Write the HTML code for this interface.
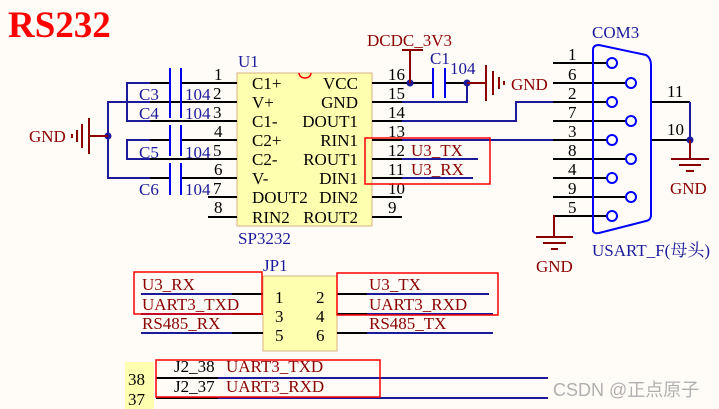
<!DOCTYPE html>
<html><head><meta charset="utf-8"><style>
html,body{margin:0;padding:0;background:#fffcf8;}
svg{display:block;}
text{font-family:"Liberation Serif","Noto Serif CJK SC",serif;font-size:17px;}
.k{fill:#000}.b{fill:#1a1a9a}.r{fill:#8b0000}
</style></head><body>
<svg width="719" height="409" viewBox="0 0 719 409" xmlns="http://www.w3.org/2000/svg">
<rect width="719" height="409" fill="#fffcf8"/>
<text x="8" y="37" style="font-size:37px;font-weight:bold" fill="#ff0000">RS232</text>

<!-- chip -->
<rect x="237" y="73" width="135" height="153" fill="#ffffb0" stroke="#d8b080" stroke-width="1"/>
<path d="M299 73 A6 5 0 0 0 311 73" fill="none" stroke="#ff0000" stroke-width="1.5"/>
<text x="238" y="67" class="b">U1</text>
<text x="238" y="244" class="b">SP3232</text>
<g class="k">
<text x="252" y="89">C1+</text><text x="252" y="108">V+</text><text x="252" y="127">C1-</text><text x="252" y="146">C2+</text>
<text x="252" y="165">C2-</text><text x="252" y="184">V-</text><text x="252" y="203">DOUT2</text><text x="252" y="223">RIN2</text>
<g text-anchor="end"><text x="358" y="89">VCC</text><text x="358" y="108">GND</text><text x="358" y="127">DOUT1</text><text x="358" y="146">RIN1</text>
<text x="358" y="165">ROUT1</text><text x="358" y="184">DIN1</text><text x="358" y="203">DIN2</text><text x="358" y="223">ROUT2</text></g>
</g>
<!-- left pins -->
<g stroke="#000" stroke-width="2">
<line x1="181" y1="83" x2="237" y2="83"/><line x1="181" y1="140" x2="237" y2="140"/><line x1="181" y1="178" x2="237" y2="178"/>
<line x1="208" y1="197" x2="237" y2="197"/><line x1="208" y1="217" x2="237" y2="217"/>
<line x1="150" y1="102" x2="237" y2="102"/><line x1="150" y1="121" x2="237" y2="121"/><line x1="150" y1="159" x2="237" y2="159"/>
<line x1="150" y1="83" x2="170" y2="83"/><line x1="150" y1="140" x2="170" y2="140"/><line x1="150" y1="178" x2="170" y2="178"/>
</g>
<g stroke="#1a1a9a" stroke-width="2" fill="none">
<polyline points="150,83 127,83 127,121 150,121"/>
<polyline points="150,140 127,140 127,159 150,159"/>
<polyline points="150,102 108,102 108,178 150,178"/>
</g>
<circle cx="108" cy="136" r="3.5" fill="#1a1a9a"/>
<g stroke="#8b0000" stroke-width="2">
<line x1="89" y1="136" x2="108" y2="136"/><line x1="89" y1="118" x2="89" y2="154"/>
<line x1="82" y1="124" x2="82" y2="148"/><line x1="77" y1="130" x2="77" y2="142"/><line x1="72" y1="134" x2="72" y2="138"/>
</g>
<text x="29" y="142" class="r">GND</text>
<g stroke="#0000ee" stroke-width="2">
<line x1="170" y1="68" x2="170" y2="118"/><line x1="181" y1="68" x2="181" y2="118"/>
<line x1="170" y1="125" x2="170" y2="156"/><line x1="181" y1="125" x2="181" y2="156"/>
<line x1="170" y1="163" x2="170" y2="195"/><line x1="181" y1="163" x2="181" y2="195"/>
</g>
<g class="b"><text x="139" y="100">C3</text><text x="139" y="119">C4</text><text x="139" y="158">C5</text><text x="139" y="195">C6</text>
<text x="185" y="100">104</text><text x="185" y="119">104</text><text x="185" y="158">104</text><text x="185" y="195">104</text></g>
<g class="k"><text x="214" y="80">1</text><text x="213" y="99">2</text><text x="213" y="118">3</text><text x="214" y="137">4</text>
<text x="213" y="156">5</text><text x="214" y="175">6</text><text x="213" y="194">7</text><text x="214" y="213">8</text></g>

<!-- right pins -->
<g stroke="#000" stroke-width="2">
<line x1="372" y1="83" x2="433" y2="83"/><line x1="372" y1="102" x2="402" y2="102"/><line x1="372" y1="121" x2="402" y2="121"/>
<line x1="372" y1="140" x2="402" y2="140"/><line x1="372" y1="159" x2="402" y2="159"/><line x1="372" y1="178" x2="402" y2="178"/>
<line x1="372" y1="197" x2="402" y2="197"/><line x1="372" y1="217" x2="402" y2="217"/>
<line x1="445" y1="83" x2="480" y2="83"/>
</g>
<g class="k"><text x="388" y="80">16</text><text x="388" y="99">15</text><text x="388" y="118">14</text><text x="388" y="137">13</text>
<text x="388" y="156">12</text><text x="388" y="175">11</text><text x="388" y="194">10</text><text x="388" y="213">9</text></g>
<g stroke="#1a1a9a" stroke-width="2" fill="none">
<polyline points="402,102 467,102 467,83"/>
<polyline points="402,121 516,121 516,102 553,102"/>
<line x1="402" y1="140" x2="553" y2="140"/>
<line x1="402" y1="159" x2="478" y2="159"/><line x1="402" y1="178" x2="473" y2="178"/>
</g>
<circle cx="410" cy="83" r="3.5" fill="#1a1a9a"/><circle cx="467" cy="83" r="3.5" fill="#1a1a9a"/>
<g stroke="#8b0000" stroke-width="2">
<line x1="410" y1="50" x2="410" y2="83"/><line x1="402" y1="50" x2="423" y2="50"/>
<line x1="467" y1="83" x2="486" y2="83"/><line x1="486" y1="65" x2="486" y2="101"/><line x1="493" y1="71" x2="493" y2="95"/>
<line x1="499" y1="77" x2="499" y2="89"/><line x1="504" y1="81" x2="504" y2="85"/>
</g>
<text x="367" y="46" class="r">DCDC_3V3</text>
<text x="511" y="90" class="r">GND</text>
<g stroke="#0000ee" stroke-width="2"><line x1="433" y1="68" x2="433" y2="98"/><line x1="445" y1="68" x2="445" y2="98"/></g>
<text x="430" y="64" class="b">C1</text><text x="450" y="74" class="b">104</text>
<rect x="365" y="138" width="125" height="46" fill="none" stroke="#ff0000" stroke-width="1.5"/>
<text x="411" y="156" class="r">U3_TX</text><text x="411" y="175" class="r">U3_RX</text>

<!-- DB9 -->
<g stroke="#000" stroke-width="2">
<line x1="553" y1="63" x2="607" y2="63"/><line x1="553" y1="83" x2="626" y2="83"/><line x1="553" y1="102" x2="607" y2="102"/>
<line x1="553" y1="121" x2="626" y2="121"/><line x1="553" y1="140" x2="607" y2="140"/><line x1="553" y1="159" x2="626" y2="159"/>
<line x1="553" y1="178" x2="607" y2="178"/><line x1="553" y1="197" x2="626" y2="197"/><line x1="553" y1="216" x2="607" y2="216"/>
<line x1="651" y1="102" x2="690" y2="102"/><line x1="651" y1="140" x2="690" y2="140"/>
</g>
<path d="M593 232 L593 50 Q593 45 599 45 L646 55 Q651 58 651 65 L651 215 Q651 220 646 221 L599 233 Q593 234 593 230 Z" fill="none" stroke="#0000ff" stroke-width="2"/>
<g fill="#fffcf8" stroke="#0000ff" stroke-width="2">
<circle cx="612" cy="63" r="5"/><circle cx="631" cy="83" r="5"/><circle cx="612" cy="102" r="5"/><circle cx="631" cy="121" r="5"/>
<circle cx="612" cy="140" r="5"/><circle cx="631" cy="159" r="5"/><circle cx="612" cy="178" r="5"/><circle cx="631" cy="197" r="5"/><circle cx="612" cy="216" r="5"/>
</g>
<g class="k"><text x="568" y="60">1</text><text x="568" y="80">6</text><text x="568" y="99">2</text><text x="568" y="118">7</text><text x="568" y="137">3</text>
<text x="568" y="156">8</text><text x="568" y="175">4</text><text x="568" y="194">9</text><text x="568" y="213">5</text>
<text x="667" y="97">11</text><text x="667" y="135">10</text></g>
<text x="592" y="38" class="b">COM3</text>
<text x="592" y="256" class="b">USART_F(母头)</text>
<line x1="690" y1="102" x2="690" y2="140" stroke="#1a1a9a" stroke-width="2"/>
<circle cx="690" cy="140" r="3.5" fill="#1a1a9a"/>
<g stroke="#8b0000" stroke-width="2">
<line x1="690" y1="140" x2="690" y2="159"/><line x1="671" y1="159" x2="709" y2="159"/><line x1="679" y1="165" x2="701" y2="165"/><line x1="686" y1="171" x2="694" y2="171"/>
<polyline points="553,216 554,216 554,237" fill="none"/><line x1="536" y1="237" x2="573" y2="237"/><line x1="543" y1="243" x2="566" y2="243"/><line x1="551" y1="249" x2="558" y2="249"/>
</g>
<text x="670" y="194" class="r">GND</text>
<text x="536" y="272" class="r">GND</text>

<!-- JP1 -->
<rect x="263" y="276" width="74" height="75" fill="#ffffb0" stroke="#d8b080"/>
<text x="263" y="271" class="b">JP1</text>
<g class="k"><text x="275" y="303">1</text><text x="316" y="303">2</text><text x="275" y="322">3</text><text x="316" y="322">4</text><text x="275" y="341">5</text><text x="316" y="341">6</text></g>
<g stroke-width="2">
<line x1="141" y1="294" x2="232" y2="294" stroke="#1a1a9a"/><line x1="232" y1="294" x2="263" y2="294" stroke="#000"/>
<line x1="141" y1="314" x2="232" y2="314" stroke="#1a1a9a"/><line x1="232" y1="314" x2="263" y2="314" stroke="#000"/>
<line x1="141" y1="333" x2="232" y2="333" stroke="#1a1a9a"/><line x1="232" y1="333" x2="263" y2="333" stroke="#000"/>
<line x1="337" y1="294" x2="367" y2="294" stroke="#000"/><line x1="367" y1="294" x2="489" y2="294" stroke="#1a1a9a"/>
<line x1="337" y1="314" x2="367" y2="314" stroke="#000"/><line x1="367" y1="314" x2="493" y2="314" stroke="#1a1a9a"/>
<line x1="337" y1="333" x2="367" y2="333" stroke="#000"/><line x1="367" y1="333" x2="493" y2="333" stroke="#1a1a9a"/>
</g>
<g class="r"><text x="142" y="290">U3_RX</text><text x="142" y="310">UART3_TXD</text><text x="142" y="329">RS485_RX</text>
<text x="369" y="290">U3_TX</text><text x="369" y="310">UART3_RXD</text><text x="369" y="329">RS485_TX</text></g>
<rect x="134" y="272" width="128" height="42" fill="none" stroke="#ff0000" stroke-width="1.5"/>
<rect x="337" y="273" width="161" height="42" fill="none" stroke="#ff0000" stroke-width="1.5"/>

<!-- J2 -->
<rect x="125" y="362" width="29" height="47" fill="#ffffb0"/>
<text x="128" y="385" class="k">38</text><text x="128" y="405" class="k">37</text>
<g stroke-width="2">
<line x1="156" y1="378" x2="218" y2="378" stroke="#000"/><line x1="218" y1="378" x2="548" y2="378" stroke="#1a1a9a"/>
<line x1="156" y1="398" x2="218" y2="398" stroke="#000"/><line x1="218" y1="398" x2="548" y2="398" stroke="#1a1a9a"/>
</g>
<text x="174" y="372" class="k">J2_38</text><text x="226" y="372" class="r">UART3_TXD</text>
<text x="174" y="392" class="k">J2_37</text><text x="226" y="392" class="r">UART3_RXD</text>
<rect x="156" y="360" width="224" height="37" fill="none" stroke="#ff0000" stroke-width="1.5"/>
<text x="553" y="396" style="font-family:'Liberation Sans','Noto Sans CJK SC',sans-serif;font-size:18px" fill="#b0b0b0">CSDN @正点原子</text>
</svg>
</body></html>
